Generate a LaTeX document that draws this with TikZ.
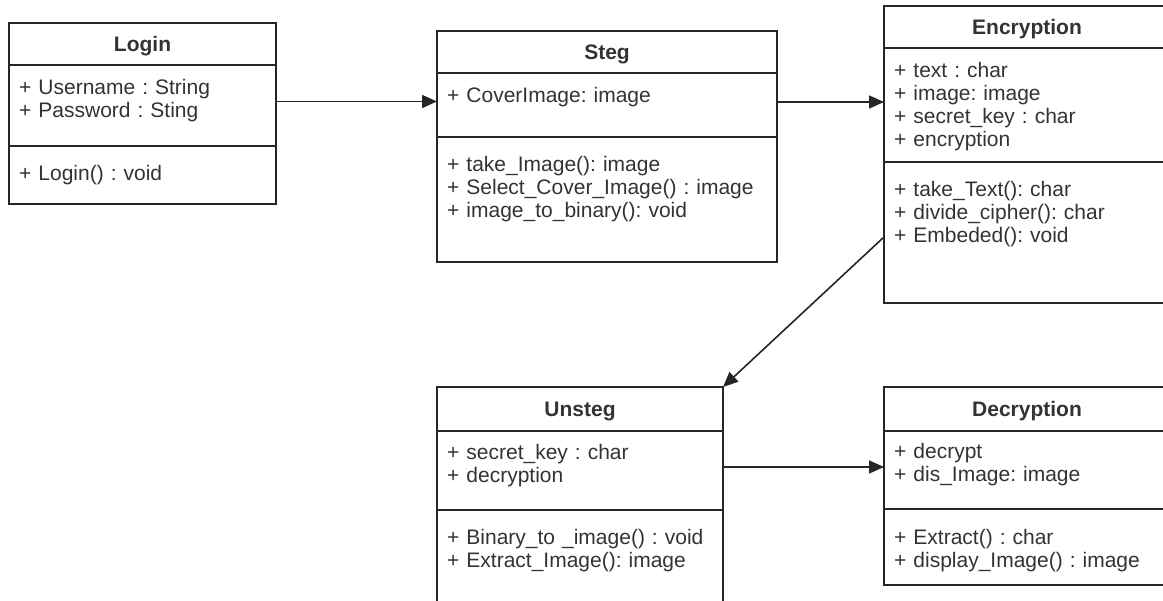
\documentclass[tikz,border=0pt]{standalone}
\usepackage{fontspec}
\setmainfont{Liberation Sans}
\usetikzlibrary{arrows.meta}
\frenchspacing

\begin{document}
\begin{tikzpicture}[x=1pt, y=-1pt,
  part/.style={draw=black!85, line width=1.5pt, anchor=north west,
               inner sep=0pt, outer sep=0pt},
  head/.style={part, font=\fontsize{21}{23}\selectfont\bfseries,
               text=black!80, text height=15pt, text depth=0pt},
  memb/.style={anchor=base west, text width=320pt, align=left, inner sep=0pt,
               font=\fontsize{21}{22.7}\selectfont, text=black!80},
  arr/.style={-{Triangle[length=15pt,width=13pt]}, line width=1.6pt, draw=black!85}
]
  \clip (0,0) rectangle (1163,601);

  % Login
  \node[head, minimum width=267, minimum height=42] (login) at (9,23) {Login};
  \node[part, minimum width=267, minimum height=81] (login-attr) at (login.south west) {};
  \node[part, minimum width=267, minimum height=58] (login-ops) at (login-attr.south west) {};
  \node[memb] (login-attr-txt) at ([shift={(10,30)}]login-attr.north west)
    {+ Username : String\\+ Password : Sting};
  \node[memb] (login-ops-txt) at ([shift={(10,35)}]login-ops.north west)
    {+ Login() : void};

  % Steg
  \node[head, minimum width=340, minimum height=42] (steg) at (437,31) {Steg};
  \node[part, minimum width=340, minimum height=64] (steg-attr) at (steg.south west) {};
  \node[part, minimum width=340, minimum height=125] (steg-ops) at (steg-attr.south west) {};
  \node[memb] (steg-attr-txt) at ([shift={(10,30)}]steg-attr.north west)
    {+ CoverImage: image};
  \node[memb] (steg-ops-txt) at ([shift={(10,35)}]steg-ops.north west)
    {+ take\_Image(): image\\+ Select\_Cover\_Image() : image\\+ image\_to\_binary(): void};

  % Encryption
  \node[head, minimum width=286, minimum height=42] (enc) at (884,6) {Encryption};
  \node[part, minimum width=286, minimum height=114] (enc-attr) at (enc.south west) {};
  \node[part, minimum width=286, minimum height=141] (enc-ops) at (enc-attr.south west) {};
  \node[memb] (enc-attr-txt) at ([shift={(10,30)}]enc-attr.north west)
    {+ text : char\\+ image: image\\+ secret\_key : char\\+ encryption};
  \node[memb] (enc-ops-txt) at ([shift={(10,35)}]enc-ops.north west)
    {+ take\_Text(): char\\+ divide\_cipher(): char\\+ Embeded(): void};

  % Unsteg
  \node[head, minimum width=286, minimum height=44] (unsteg) at (437,387) {Unsteg};
  \node[part, minimum width=286, minimum height=79] (unsteg-attr) at (unsteg.south west) {};
  \node[part, minimum width=286, minimum height=120] (unsteg-ops) at (unsteg-attr.south west) {};
  \node[memb] (unsteg-attr-txt) at ([shift={(10,29)}]unsteg-attr.north west)
    {+ secret\_key : char\\+ decryption};
  \node[memb] (unsteg-ops-txt) at ([shift={(10,35)}]unsteg-ops.north west)
    {+ Binary\_to \_image() : void\\+ Extract\_Image(): image};

  % Decryption
  \node[head, minimum width=286, minimum height=44] (dec) at (884,387) {Decryption};
  \node[part, minimum width=286, minimum height=78] (dec-attr) at (dec.south west) {};
  \node[part, minimum width=286, minimum height=76] (dec-ops) at (dec-attr.south west) {};
  \node[memb] (dec-attr-txt) at ([shift={(10,28)}]dec-attr.north west)
    {+ decrypt\\+ dis\_Image: image};
  \node[memb] (dec-ops-txt) at ([shift={(10,36)}]dec-ops.north west)
    {+ Extract() : char\\+ display\_Image() : image};

  \draw[arr] ([yshift=4pt]login-attr.east) -- ([yshift=4pt]login-attr.east -| steg-attr.west);
  \draw[arr] ([yshift=3pt]steg-attr.east) -- ([yshift=3pt]steg-attr.east -| enc-attr.west);
  \draw[arr] ([yshift=-4.5pt]enc-ops.west) -- (unsteg.north east);
  \draw[arr] ([yshift=3.5pt]unsteg-attr.east) -- ([yshift=3.5pt]unsteg-attr.east -| dec-attr.west);
\end{tikzpicture}
\end{document}
